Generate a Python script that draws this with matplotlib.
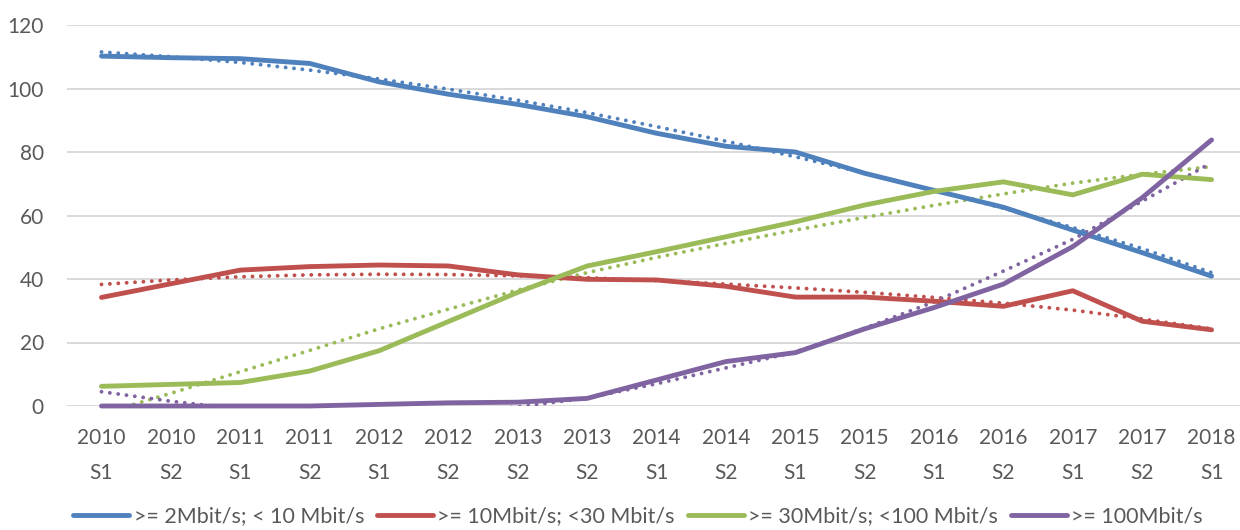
import numpy as np
import matplotlib
matplotlib.use("Agg")
import matplotlib.pyplot as plt

# categories (half-years)
periods = ["2010\nS1", "2010\nS2", "2011\nS1", "2011\nS2", "2012\nS1", "2012\nS2",
           "2013\nS2", "2013\nS2", "2014\nS1", "2014\nS2", "2015\nS1", "2015\nS2",
           "2016\nS1", "2016\nS2", "2017\nS1", "2017\nS2", "2018\nS1"]

# series
band_2_10 = [110.2, 109.7, 109.4, 107.9, 102.1, 98.2, 95.0, 91.1, 85.9, 81.8, 80.0,
             73.3, 67.9, 62.6, 55.4, 48.3, 40.9]
band_10_30 = [34.2, 38.5, 42.8, 43.9, 44.4, 44.1, 41.3, 39.9, 39.7, 37.7, 34.3,
              34.3, 33.0, 31.4, 36.3, 26.7, 24.0]
band_30_100 = [6.2, 6.8, 7.4, 11.0, 17.4, 26.6, 35.8, 44.1, 48.6, 53.3, 58.0,
               63.3, 67.6, 70.6, 66.5, 73.0, 71.3]
band_100 = [0.0, 0.0, 0.0, 0.0, 0.5, 1.0, 1.2, 2.4, 8.2, 14.0, 16.8,
            24.3, 31.0, 38.4, 50.2, 65.6, 83.8]

# dotted trendlines as drawn in the chart
trend_2_10 = [111.5, 110.0, 108.2, 105.8, 103.0, 99.8, 96.3, 92.4, 88.0, 83.4, 78.5,
              73.4, 68.0, 62.3, 56.2, 49.6, 42.0]
trend_10_30 = [38.3, 39.7, 40.7, 41.3, 41.5, 41.4, 41.0, 40.4, 39.5, 38.4, 37.2,
               35.8, 34.2, 32.4, 30.2, 27.4, 24.3]
trend_30_100 = [-2.5, 4.0, 10.8, 17.5, 24.3, 30.5, 36.5, 42.0, 46.8, 51.2, 55.4,
                59.4, 63.2, 66.8, 70.2, 73.0, 75.4]
trend_100 = [4.5, 1.5, -1.0, -2.5, -3.0, -2.0, -0.3, 2.5, 7.0, 12.0, 17.0,
             24.5, 32.8, 42.5, 52.5, 64.5, 76.6]

labels = [">= 2Mbit/s; < 10 Mbit/s", ">= 10Mbit/s; <30 Mbit/s",
          ">= 30Mbit/s; <100 Mbit/s", ">= 100Mbit/s"]
colors = ["#4F81BD", "#C0504D", "#9BBB59", "#8064A2"]

plt.rcParams['font.family'] = ['Lato', 'DejaVu Sans']

fig = plt.figure(figsize=(12.4, 5.3), dpi=100)
ax = fig.add_axes([66.8 / 1240, 124 / 530, 1173.2 / 1240, 381 / 530])

x = np.arange(len(periods))
series = [band_2_10, band_10_30, band_30_100, band_100]
trends = [trend_2_10, trend_10_30, trend_30_100, trend_100]

for s, t, c, lab in zip(series, trends, colors, labels):
    ax.plot(x, t, color=c, lw=2.8, linestyle=(0, (0.01, 2.15)),
            dash_capstyle='round', zorder=3)
    ax.plot(x, s, color=c, lw=3.5, solid_capstyle='round',
            solid_joinstyle='round', label=lab, clip_on=False, zorder=4)

ax.set_xlim(-0.5, 16.41)
ax.set_ylim(0, 120)
ax.set_yticks(np.arange(0, 121, 20))
ax.set_xticks(x)
ax.set_xticklabels(periods, linespacing=1.9)
ax.grid(axis='y', color='#D9D9D9', lw=1.4)
ax.set_axisbelow(True)
for sp in ax.spines.values():
    sp.set_visible(False)
ax.tick_params(axis='both', length=0, labelsize=15, colors='#595959')
ax.tick_params(axis='x', pad=16)
ax.tick_params(axis='y', pad=16.5)

leg = fig.legend(loc='center', bbox_to_anchor=(0.5145, 0.026), ncol=4,
                 frameon=False, fontsize=15.5, handlelength=2.6,
                 handletextpad=0.2, columnspacing=0.6,
                 borderpad=0.1)
for txt in leg.get_texts():
    txt.set_color('#595959')

fig.savefig("out.png", dpi=100)
